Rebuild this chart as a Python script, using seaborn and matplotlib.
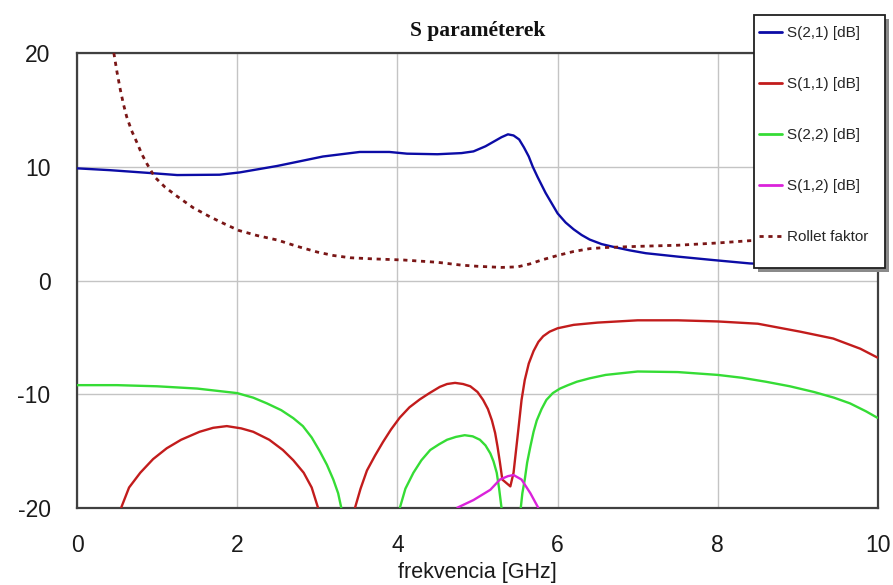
import numpy as np
import pandas as pd
import matplotlib
matplotlib.use("Agg")
import matplotlib.pyplot as plt
from matplotlib.lines import Line2D
from matplotlib.patches import Rectangle
import seaborn as sns

# ---- measured curves (frequency in GHz, values in dB / Rollet factor) ----
nan = np.nan

s21_f = [0.0, 0.41, 0.91, 1.25, 1.78, 2.03, 2.5, 3.07, 3.53, 3.9, 4.12, 4.5, 4.8,
         4.95, 5.1, 5.2, 5.3, 5.38, 5.45, 5.52, 5.58, 5.64, 5.69, 5.75, 5.8, 5.85,
         5.9, 5.95, 6.0, 6.1, 6.2, 6.3, 6.4, 6.55, 6.7, 6.9, 7.1, 7.5, 7.94, 8.4,
         9.0, 9.5, 10.0]
s21_db = [9.86, 9.7, 9.45, 9.27, 9.3, 9.5, 10.07, 10.9, 11.3, 11.3, 11.15, 11.1,
          11.2, 11.35, 11.8, 12.2, 12.6, 12.85, 12.75, 12.4, 11.7, 10.9, 10.0, 9.1,
          8.4, 7.7, 7.1, 6.5, 5.9, 5.1, 4.5, 4.0, 3.6, 3.2, 2.95, 2.65, 2.4, 2.1,
          1.8, 1.5, 1.35, 1.25, 1.15]

s11_f = [0.55, 0.65, 0.79, 0.95, 1.12, 1.3, 1.53, 1.7, 1.87, 2.05, 2.2, 2.4, 2.57,
         2.7, 2.83, 2.93, 3.01, nan,
         3.47, 3.54, 3.62, 3.72, 3.82, 3.92, 4.03, 4.15, 4.28, 4.4, 4.53, 4.62,
         4.72, 4.82, 4.91, 5.0, 5.07, 5.13, 5.18, 5.22, 5.25, 5.28, 5.31, 5.41,
         5.45, 5.48, 5.51, 5.55, 5.59, 5.64, 5.7, 5.76, 5.82, 5.9, 6.0, 6.2, 6.5,
         7.0, 7.5, 8.0, 8.5, 9.03, 9.44, 9.78, 10.0]
s11_db = [-20.0, -18.2, -16.9, -15.7, -14.75, -14.0, -13.3, -12.95, -12.8, -13.0,
          -13.3, -14.0, -14.9, -15.8, -16.9, -18.2, -20.0, nan,
          -20.0, -18.3, -16.7, -15.4, -14.2, -13.1, -12.05, -11.15, -10.45, -9.9,
          -9.35, -9.1, -9.0, -9.1, -9.3, -9.8, -10.5, -11.3, -12.3, -13.4, -14.6,
          -16.0, -17.5, -18.1, -16.9, -15.0, -13.1, -10.5, -8.75, -7.3, -6.2,
          -5.4, -4.9, -4.5, -4.2, -3.9, -3.7, -3.5, -3.5, -3.6, -3.8, -4.5, -5.1,
          -6.0, -6.8]

s22_f = [0.0, 0.5, 1.0, 1.5, 2.0, 2.2, 2.37, 2.55, 2.7, 2.82, 2.93, 3.03, 3.12,
         3.2, 3.26, 3.3, nan,
         4.03, 4.1, 4.2, 4.3, 4.41, 4.52, 4.62, 4.73, 4.84, 4.94, 5.03, 5.1, 5.16,
         5.2, 5.24, 5.27, 5.3, nan,
         5.54, 5.56, 5.59, 5.62, 5.66, 5.7, 5.74, 5.8, 5.86, 5.94, 6.03, 6.13,
         6.24, 6.4, 6.6, 6.8, 7.0, 7.5, 8.0, 8.3, 8.6, 8.9, 9.2, 9.45, 9.65, 9.85,
         10.0]
s22_db = [-9.2, -9.2, -9.3, -9.5, -9.9, -10.3, -10.8, -11.4, -12.1, -12.8, -13.8,
          -15.0, -16.2, -17.5, -18.7, -20.0, nan,
          -20.0, -18.3, -16.9, -15.8, -14.9, -14.4, -14.0, -13.75, -13.6, -13.7,
          -14.0, -14.5, -15.2, -15.9, -16.9, -18.3, -20.0, nan,
          -20.0, -18.7, -17.5, -16.0, -14.6, -13.3, -12.3, -11.3, -10.5, -9.9,
          -9.5, -9.2, -8.9, -8.6, -8.3, -8.15, -8.0, -8.05, -8.3, -8.55, -8.9,
          -9.3, -9.8, -10.3, -10.8, -11.5, -12.1]

s12_f = [4.74, 4.95, 5.16, 5.28, 5.38, 5.45, 5.55, 5.66, 5.76]
s12_db = [-20.0, -19.3, -18.4, -17.5, -17.2, -17.1, -17.5, -18.7, -20.0]

rollet_f = [0.46, 0.5, 0.54, 0.58, 0.62, 0.68, 0.75, 0.81, 0.87, 0.97, 1.1, 1.25,
            1.45, 1.66, 1.85, 2.02, 2.25, 2.5, 2.75, 3.0, 3.2, 3.41, 3.7, 4.08,
            4.5, 4.8, 5.0, 5.3, 5.5, 5.65, 5.8, 6.0, 6.2, 6.4, 6.6, 7.0, 7.5,
            8.0, 8.4, 9.0, 9.5, 10.0]
rollet_k = [20.0, 18.3, 16.8, 15.5, 14.4, 13.2, 12.1, 11.1, 10.3, 9.1, 8.2, 7.4,
            6.4, 5.6, 4.95, 4.4, 3.95, 3.56, 3.0, 2.5, 2.2, 2.0, 1.9, 1.8, 1.6,
            1.35, 1.25, 1.15, 1.2, 1.45, 1.8, 2.2, 2.55, 2.8, 2.9, 3.0, 3.1, 3.3,
            3.5, 3.6, 3.7, 3.8]

series_names = ["S(2,1) [dB]", "S(1,1) [dB]", "S(2,2) [dB]", "S(1,2) [dB]", "Rollet faktor"]
series_data = [(s21_f, s21_db), (s11_f, s11_db), (s22_f, s22_db),
               (s12_f, s12_db), (rollet_f, rollet_k)]
series_colors = ["#0C0CA6", "#C21C1C", "#35DC35", "#DA22DA", "#7A1616"]

x_ticks = [0, 2, 4, 6, 8, 10]
y_ticks = [-20, -10, 0, 10, 20]

DOTS = (0, (1.5, 1.7))


def to_long(name, xs, ys):
    """Long-form table; a NaN entry starts a new segment."""
    rows, seg = [], 0
    for x, y in zip(xs, ys):
        if np.isnan(x):
            seg += 1
            continue
        rows.append((name, seg, x, y))
    return pd.DataFrame(rows, columns=["series", "segment", "freq", "value"])


df = pd.concat([to_long(n, *d) for n, d in zip(series_names, series_data)],
               ignore_index=True)

sns.set_theme(style="white")
plt.rcParams["font.family"] = ["Liberation Sans", "DejaVu Sans"]
plt.rcParams["axes.unicode_minus"] = False

W, H = 893, 585
fig = plt.figure(figsize=(W / 100, H / 100), dpi=100)
ax = fig.add_axes([77 / W, 1 - 508 / H, (878 - 77) / W, (508 - 53) / H])

for name, color in zip(series_names, series_colors):
    sub = df[df["series"] == name]
    dotted = name == "Rollet faktor"
    sns.lineplot(data=sub, x="freq", y="value", units="segment", estimator=None,
                 sort=False, color=color, ax=ax, legend=False,
                 linewidth=2.0 if dotted else 1.7,
                 linestyle=DOTS if dotted else "-",
                 solid_capstyle="butt", dash_capstyle="butt", zorder=3)

ax.set_xlim(0, 10)
ax.set_ylim(-20, 20)
ax.set_xticks(x_ticks)
ax.set_yticks(y_ticks)
ax.grid(True, color="#c4c4c4", linewidth=1.0)
ax.set_axisbelow(True)
for sp in ax.spines.values():
    sp.set_color("#404040")
    sp.set_linewidth(1.6)
    sp.set_visible(True)
ax.tick_params(axis="both", length=0, labelsize=16.5, colors="#1a1a1a")
ax.tick_params(axis="y", pad=19)
ax.tick_params(axis="x", pad=19)
ax.set_xlabel("frekvencia [GHz]", fontsize=15.5, color="#1a1a1a", labelpad=3)
ax.set_ylabel("")
ax.set_title("S paraméterek", fontsize=15.5, fontweight="bold",
             family=["Liberation Serif", "DejaVu Serif"], color="#111111", pad=12)

# legend panel with drop shadow, overlapping the plot's top-right corner
x0, y0, x1, y1 = 754, 15, 885, 268
fig.patches.append(Rectangle((x0 + 4, H - y1 - 4), x1 - x0, y1 - y0,
                             transform=None, facecolor="#8a8a8a",
                             edgecolor="none", zorder=1))
fig.patches.append(Rectangle((x0, H - y1), x1 - x0, y1 - y0,
                             transform=None, facecolor="white",
                             edgecolor="#202020", linewidth=1.3, zorder=1.1))

handles = [Line2D([], [], color=c, linewidth=2.0,
                  linestyle=DOTS if n == "Rollet faktor" else "-")
           for n, c in zip(series_names, series_colors)]
fig.legend(handles, series_names, loc="upper left",
           bbox_to_anchor=((x0 + 2) / W, 1 - (y0 + 8) / H),
           bbox_transform=fig.transFigure, frameon=False, fontsize=11,
           handlelength=1.5, handletextpad=0.35, labelspacing=2.42,
           borderpad=0.2, borderaxespad=0)

fig.savefig("out.png", dpi=100)
